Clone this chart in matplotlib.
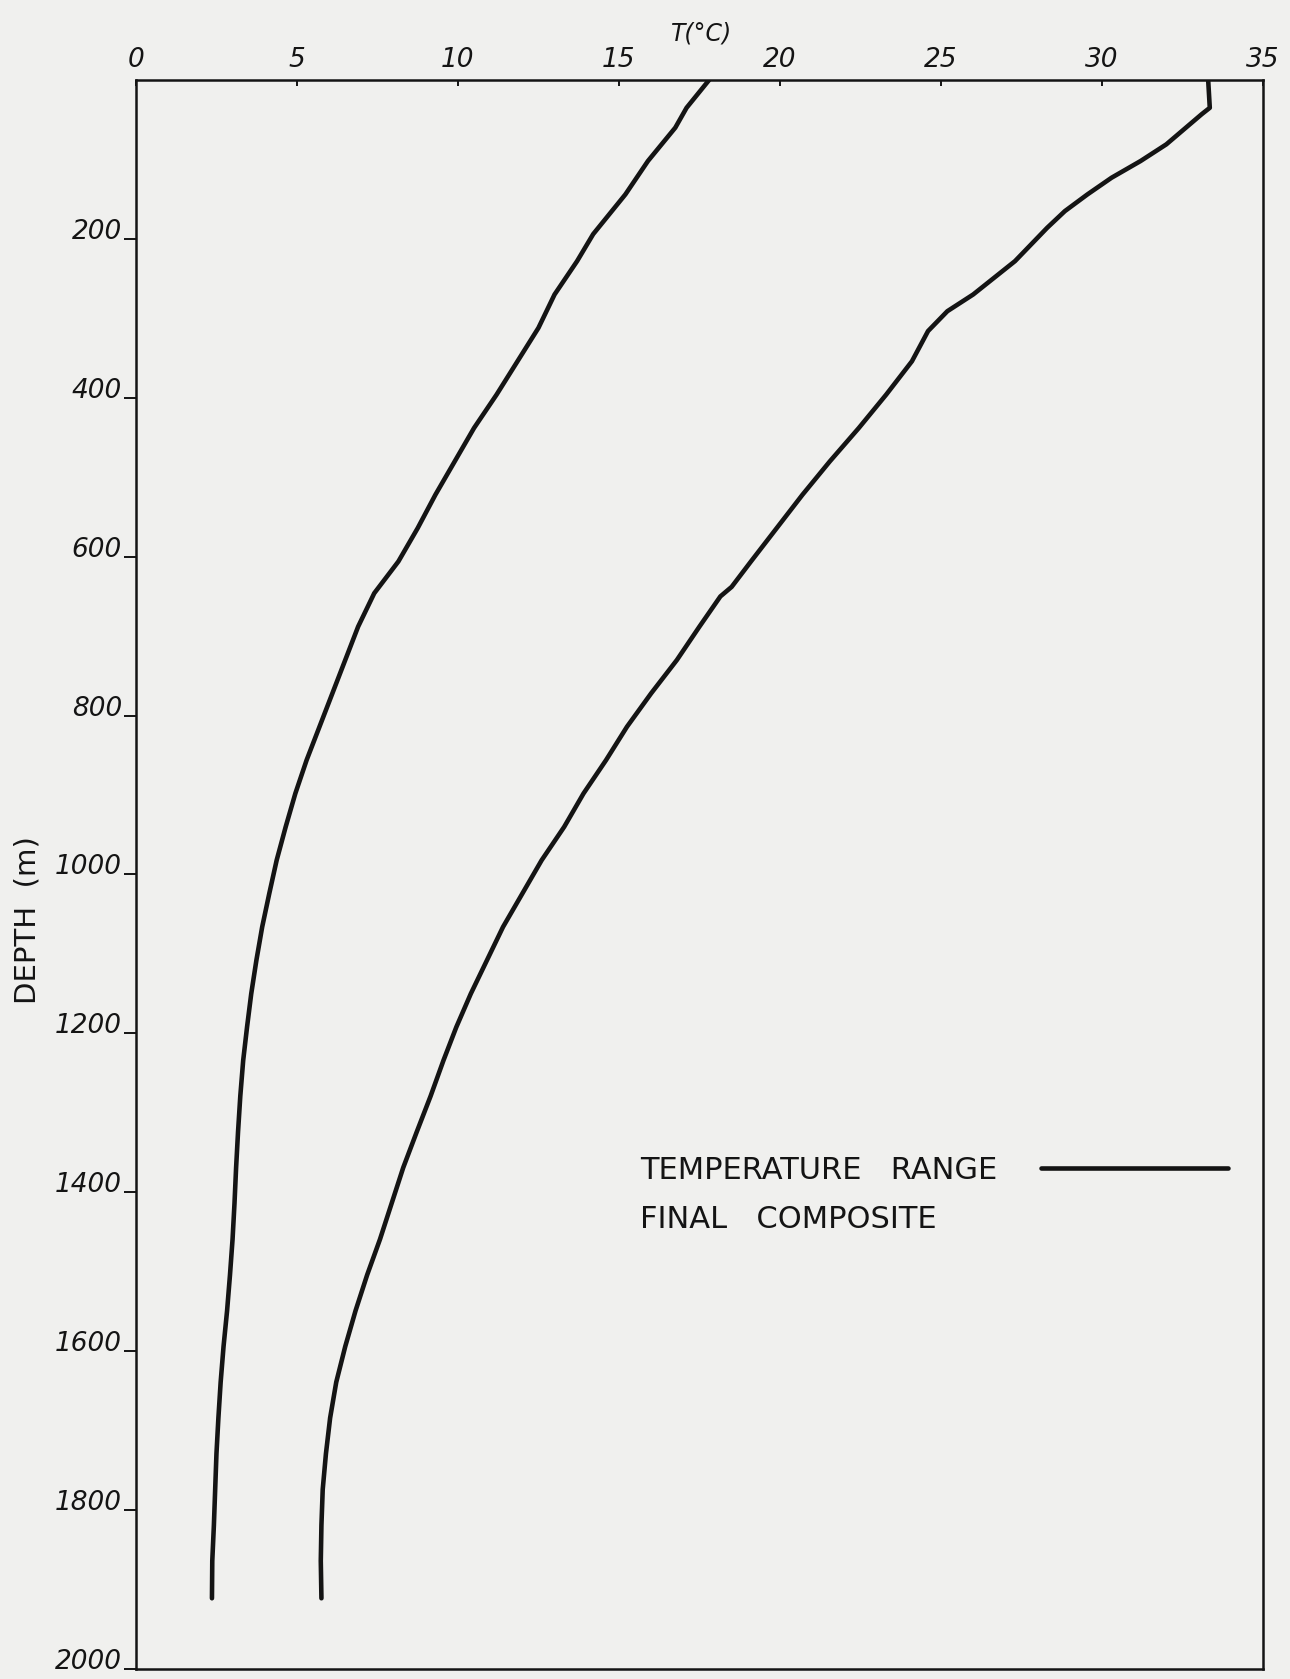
#!/usr/bin/env python3
import matplotlib
matplotlib.use('Agg')
import matplotlib.pyplot as plt

PAPER = "#f0f0ee"
INK = "#141414"

# cold edge of the temperature range (left curve)
depth_cold = [0, 35, 60, 102, 144, 194, 228, 270, 312, 354, 396, 438, 480,
              522, 564, 606, 646, 688, 730, 772, 814, 856, 898, 940, 982,
              1024, 1066, 1108, 1150, 1192, 1234, 1279, 1324, 1369, 1414,
              1459, 1504, 1549, 1594, 1639, 1684, 1729, 1774, 1819, 1864, 1911]
temp_cold = [17.8, 17.1, 16.75, 15.9, 15.2, 14.2, 13.7, 13.0, 12.5, 11.85,
             11.2, 10.5, 9.9, 9.3, 8.75, 8.15, 7.4, 6.9, 6.5, 6.1, 5.7,
             5.3, 4.95, 4.65, 4.37, 4.14, 3.92, 3.74, 3.58, 3.45, 3.33, 3.24,
             3.17, 3.11, 3.06, 3.0, 2.92, 2.83, 2.72, 2.63, 2.56, 2.5, 2.46,
             2.42, 2.37, 2.36]

# warm edge of the temperature range (right curve)
depth_warm = [0, 35, 43, 81, 102, 123, 144, 165, 186, 228, 270, 291, 316,
              354, 396, 438, 480, 522, 564, 606, 638, 650, 688, 730, 772,
              814, 856, 898, 940, 982, 1024, 1066, 1108, 1150, 1192, 1234,
              1279, 1324, 1369, 1414, 1459, 1504, 1549, 1594, 1639, 1684,
              1729, 1774, 1819, 1864, 1911]
temp_warm = [33.3, 33.35, 33.1, 32.0, 31.2, 30.3, 29.55, 28.85, 28.3, 27.3,
             26.0, 25.2, 24.6, 24.1, 23.3, 22.45, 21.55, 20.7, 19.9, 19.1,
             18.5, 18.15, 17.5, 16.8, 16.0, 15.25, 14.6, 13.9, 13.3, 12.6,
             12.0, 11.4, 10.9, 10.4, 9.95, 9.55, 9.15, 8.72, 8.3, 7.94, 7.58,
             7.18, 6.82, 6.5, 6.22, 6.03, 5.9, 5.8, 5.76, 5.74, 5.76]

x_ticks = [0, 5, 10, 15, 20, 25, 30, 35]
y_ticks = [200, 400, 600, 800, 1000, 1200, 1400, 1600, 1800, 2000]

fig = plt.figure(figsize=(12.9, 16.79), dpi=100, facecolor=PAPER)
ax = fig.add_axes([0.1054, 0.00596, 0.8736, 0.94639], facecolor=PAPER)

ax.plot(temp_cold, depth_cold, color=INK, lw=3.3, solid_capstyle="round",
        label="TEMPERATURE   RANGE")
ax.plot(temp_warm, depth_warm, color=INK, lw=3.3, solid_capstyle="round")

ax.set_xlim(0, 35)
ax.set_ylim(2000, 0)

ax.xaxis.tick_top()
ax.set_xticks(x_ticks)
ax.set_yticks(y_ticks)
ax.tick_params(axis="x", direction="in", length=4.5, width=1.4, pad=5,
               labelsize=19, colors=INK)
ax.tick_params(axis="y", direction="out", length=8.5, width=1.4, pad=1.5,
               labelsize=19, colors=INK)
for lab in ax.get_xticklabels() + ax.get_yticklabels():
    lab.set_fontstyle("italic")
for lab in ax.get_yticklabels():
    lab.set_va("baseline")

for side in ax.spines.values():
    side.set_linewidth(1.8)
    side.set_color(INK)

fig.text(702 / 1290, 1 - 33 / 1679, "T(°C)", fontsize=17, style="italic",
         ha="center", va="center", color=INK)
fig.text(28 / 1290, 1 - 920 / 1679, "DEPTH  (m)", fontsize=21, rotation=90,
         ha="center", va="center", color=INK)

ax.legend(loc="center left", bbox_to_anchor=(0.4472, 0.314), frameon=False,
          markerfirst=False, handlelength=6.1, handletextpad=1.45,
          borderpad=0, borderaxespad=0, fontsize=22, labelcolor=INK)
ax.text(0.4472, 0.2826, "FINAL   COMPOSITE", transform=ax.transAxes,
        fontsize=22, ha="left", va="center", color=INK)

fig.savefig("out.png", dpi=100, facecolor=PAPER)
